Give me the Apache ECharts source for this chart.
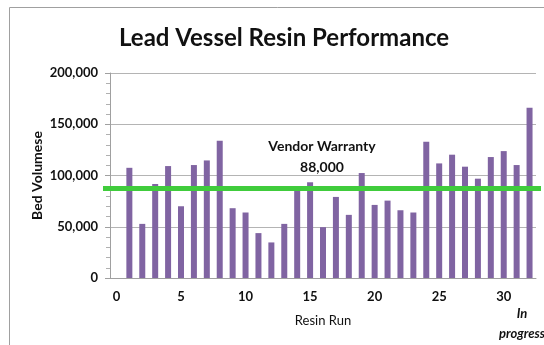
<!DOCTYPE html>
<html>
<head>
<meta charset="utf-8">
<title>Lead Vessel Resin Performance</title>
<script src="https://cdn.jsdelivr.net/npm/echarts@6/dist/echarts.min.js"></script>
<style>
  html, body { margin: 0; padding: 0; background: #ffffff; }
  #chart { width: 544px; height: 345px; }
</style>
</head>
<body>
<div id="chart"></div>
<script>
// Resin run numbers on the category axis (run 0 has no result)
const runs = ['0','1','2','3','4','5','6','7','8','9','10','11','12','13','14','15','16',
              '17','18','19','20','21','22','23','24','25','26','27','28','29','30','31','32'];

// Bed volumes treated per resin run (run 32 still in progress)
const bedVolumes = [null,
  107500, 52800, 91700, 109200, 70000, 110200, 114700, 133900,
  68100, 63900, 43800, 34700, 52800, 86000, 93400, 49600,
  79100, 61600, 102400, 71300, 75500, 66100, 63900, 132900,
  111800, 120300, 108600, 96900, 118000, 123800, 110200, 166000];

// Vendor warranty threshold
const warrantyValue = 88000;
const warrantyLabel = 'Vendor Warranty';

// Value axis ticks
const yTicks = [0, 50000, 100000, 150000, 200000];

const fontFamily = 'Lato, "Open Sans", sans-serif';
const textColor = '#111111';

const chart = echarts.init(document.getElementById('chart'), null, { renderer: 'canvas' });

chart.setOption({
  animation: false,
  backgroundColor: '#ffffff',
  title: {
    text: 'Lead Vessel Resin Performance',
    left: 114,
    top: 21,
    textStyle: { fontFamily, fontSize: 24, fontWeight: 'bold', color: textColor }
  },
  graphic: [
    {
      type: 'rect',
      silent: true,
      shape: { x: 9.5, y: 7.5, width: 600, height: 400 },
      style: { fill: 'none', stroke: '#a0a0a0', lineWidth: 1 }
    },
    {
      type: 'text',
      silent: true,
      x: 522,
      y: 304,
      style: {
        text: 'In\nprogress',
        align: 'center',
        verticalAlign: 'top',
        fontFamily,
        fontSize: 13,
        fontStyle: 'italic',
        fontWeight: 'bold',
        lineHeight: 20,
        fill: textColor
      }
    }
  ],
  grid: { left: 110, right: 8, top: 73, bottom: 67, containLabel: false },
  xAxis: {
    type: 'category',
    data: runs,
    boundaryGap: true,
    name: 'Resin Run',
    nameLocation: 'middle',
    nameGap: 36,
    nameMoveOverlap: false,
    nameTextStyle: { fontFamily, fontSize: 13, color: textColor },
    axisLine: { lineStyle: { color: '#a0a0a0', width: 1 } },
    axisTick: { show: false },
    axisLabel: {
      interval: 4,
      margin: 12,
      fontFamily, fontSize: 13, fontWeight: 'bold', color: textColor
    },
    splitLine: { show: false }
  },
  yAxis: {
    type: 'value',
    min: yTicks[0],
    max: yTicks[yTicks.length - 1],
    interval: yTicks[1] - yTicks[0],
    name: 'Bed Volumese',
    nameLocation: 'middle',
    nameRotate: 90,
    nameGap: 66,
    nameMoveOverlap: false,
    nameTextStyle: { fontFamily, fontSize: 14, fontWeight: 'bold', color: textColor },
    axisLine: { show: true, lineStyle: { color: '#a0a0a0', width: 1 } },
    axisTick: { show: true, length: 5, lineStyle: { color: '#a0a0a0' } },
    minorTick: { show: true, splitNumber: 5, length: 4, lineStyle: { color: '#b0b0b0' } },
    axisLabel: {
      margin: 12,
      fontFamily, fontSize: 13, fontWeight: 'bold', color: textColor,
      formatter: v => v.toLocaleString('en-US')
    },
    splitLine: { show: true, lineStyle: { color: '#b4b4b4', width: 1 } }
  },
  series: [
    {
      type: 'bar',
      data: bedVolumes,
      barWidth: 6,
      itemStyle: { color: '#8064a2' },
      markLine: {
        silent: true,
        symbol: 'none',
        animation: false,
        lineStyle: { color: '#40cc3c', width: 5, type: 'solid' },
        label: {
          show: true,
          position: 'middle',
          distance: 10,
          formatter: () => warrantyLabel + '\n' + warrantyValue.toLocaleString('en-US'),
          fontFamily,
          fontSize: 14,
          fontWeight: 'bold',
          lineHeight: 21,
          color: textColor
        },
        data: [[
          { x: 103, yAxis: warrantyValue },
          { x: 541, yAxis: warrantyValue }
        ]]
      }
    }
  ]
});
</script>
</body>
</html>
